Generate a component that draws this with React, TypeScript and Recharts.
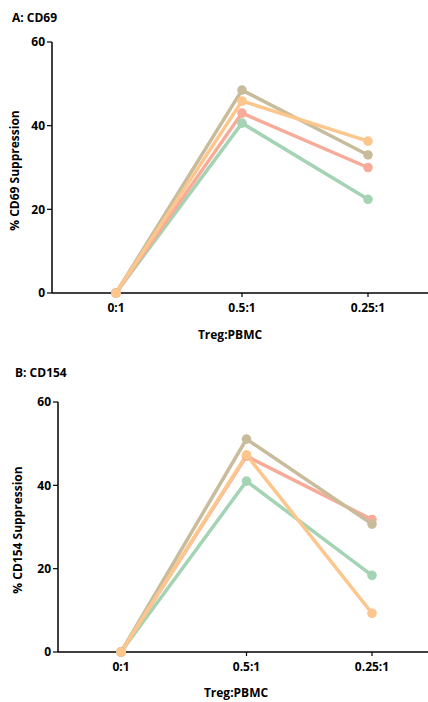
import React from 'react';
import { LineChart, Line, XAxis, YAxis } from 'recharts';

const categories = ['0:1', '0.5:1', '0.25:1'];
const yTicks = [0, 20, 40, 60];

// Panel A: CD69
const cd69Green = [0, 40.6, 22.4];
const cd69Salmon = [0, 43.0, 30.0];
const cd69Tan = [0, 48.5, 33.0];
const cd69Orange = [0, 45.9, 36.3];

// Panel B: CD154
const cd154Green = [0, 41.0, 18.4];
const cd154Salmon = [0, 47.0, 31.8];
const cd154Tan = [0, 51.1, 30.7];
const cd154Orange = [0, 47.3, 9.3];

const COLORS = {
  green: '#a4d4b4',
  salmon: '#f7ab98',
  tan: '#c9bc9c',
  orange: '#fdc68c',
};

const FONT = '"Open Sans", "DejaVu Sans", sans-serif';

function buildRows(green: number[], salmon: number[], tan: number[], orange: number[]) {
  return categories.map((c, i) => ({
    cat: c,
    green: green[i],
    salmon: salmon[i],
    tan: tan[i],
    orange: orange[i],
  }));
}

const rowsA = buildRows(cd69Green, cd69Salmon, cd69Tan, cd69Orange);
const rowsB = buildRows(cd154Green, cd154Salmon, cd154Tan, cd154Orange);

const tickStyle = { fill: '#000', fontSize: 12, fontWeight: 700, fontFamily: FONT };
const axisLine = { stroke: '#000', strokeWidth: 1.5 };

interface PanelProps {
  data: any[];
  height: number;
  top: number;
  left: number;
  xAxisHeight: number;
  padLeft: number;
  padRight: number;
  yLabel: string;
  yLabelDx: number;
  yLabelDy: number;
  xLabelDx: number;
  xLabelOffset: number;
}

function Panel(p: PanelProps) {
  const series: (keyof typeof COLORS)[] = ['green', 'salmon', 'tan', 'orange'];
  return (
    <LineChart width={428} height={p.height} data={p.data} margin={{ top: p.top, right: 0, left: 0, bottom: 0 }}>
      <XAxis
        dataKey="cat"
        height={p.xAxisHeight}
        padding={{ left: p.padLeft, right: p.padRight }}
        axisLine={axisLine}
        tickLine={{ stroke: '#000', strokeWidth: 1.2 }}
        tickSize={4}
        tickMargin={6}
        tick={tickStyle}
        label={{
          value: 'Treg:PBMC',
          position: 'insideBottom',
          offset: p.xLabelOffset,
          dx: p.xLabelDx,
          fill: '#000',
          fontSize: 12,
          fontWeight: 700,
          fontFamily: FONT,
        }}
      />
      <YAxis
        width={p.left}
        domain={[0, 60]}
        ticks={yTicks}
        interval={0}
        axisLine={axisLine}
        tickLine={{ stroke: '#000', strokeWidth: 1.2 }}
        tickSize={5}
        tickMargin={2}
        tick={tickStyle}
        label={{
          value: p.yLabel,
          angle: -90,
          position: 'center',
          dx: p.yLabelDx,
          dy: p.yLabelDy,
          fill: '#000',
          fontSize: 12,
          fontWeight: 700,
          fontFamily: FONT,
        }}
      />
      {series.map((k) => (
        <Line
          key={k}
          type="linear"
          dataKey={k}
          stroke={COLORS[k]}
          strokeWidth={3.5}
          dot={{ r: 4.8, fill: COLORS[k], stroke: 'none' }}
          isAnimationActive={false}
        />
      ))}
    </LineChart>
  );
}

const titleStyle: React.CSSProperties = {
  position: 'absolute',
  fontFamily: FONT,
  fontWeight: 700,
  fontSize: 12,
  color: '#000',
  lineHeight: '14px',
  whiteSpace: 'nowrap',
};

export default function App() {
  return (
    <div style={{ position: 'absolute', left: 0, top: 0, width: 428, height: 702, background: '#fff', overflow: 'hidden' }}>
      <div style={{ position: 'absolute', left: 0, top: 0 }}>
        <Panel
          data={rowsA}
          height={350}
          top={42}
          left={52}
          xAxisHeight={57}
          padLeft={64}
          padRight={60}
          yLabel="% CD69 Suppression"
          yLabelDx={-11}
          yLabelDy={3}
          xLabelDx={-10}
          xLabelOffset={11}
        />
      </div>
      <div style={{ position: 'absolute', left: 0, top: 350 }}>
        <Panel
          data={rowsB}
          height={352}
          top={52}
          left={58}
          xAxisHeight={50}
          padLeft={63}
          padRight={56}
          yLabel="% CD154 Suppression"
          yLabelDx={-11}
          yLabelDy={3}
          xLabelDx={-7}
          xLabelOffset={5}
        />
      </div>
      <div style={{ ...titleStyle, left: 12, top: 11 }}>A: CD69</div>
      <div style={{ ...titleStyle, left: 15, top: 366 }}>B: CD154</div>
    </div>
  );
}
